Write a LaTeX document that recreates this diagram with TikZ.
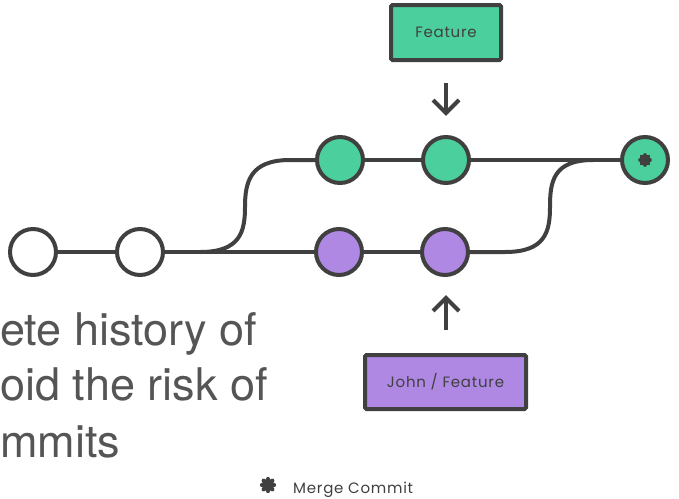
\documentclass[tikz,border=0pt]{standalone}
\usepackage{fontspec}
\setmainfont{TeX Gyre Heros}
\newfontfamily\labelfont[LetterSpace=5]{Poppins}
\usetikzlibrary{calc}
\definecolor{ink}{HTML}{404040}
\definecolor{featgreen}{HTML}{4BCF9C}
\definecolor{johnpurple}{HTML}{AF88E4}
\definecolor{bigtext}{HTML}{555555}
\tikzset{
  commit/.style={circle, draw=ink, line width=4pt, minimum size=46pt, inner sep=0pt},
  plaincommit/.style={commit, fill=white},
  greencommit/.style={commit, fill=featgreen},
  purplecommit/.style={commit, fill=johnpurple},
  branchline/.style={draw=ink, line width=4pt},
  labelbox/.style={draw=ink, line width=4pt, rounded corners=1.5pt, inner sep=0pt, font=\labelfont\fontsize{15}{17}\selectfont, text=ink},
  pointer/.style={draw=ink, line width=4pt},
  bigline/.style={anchor=base west, inner sep=0pt, text=bigtext, font=\fontsize{45}{56}\selectfont},
  petal/.style={draw=ink, line cap=round}
}
\begin{document}
\begin{tikzpicture}[x=1pt, y=-1pt]
\useasboundingbox (0,0) rectangle (679,498);
% branch points
\coordinate (bb) at (200,252);
\coordinate (bt) at (290,160);
\coordinate (mb) at (505,252);
\coordinate (mt) at (593,160);
% commit positions
\coordinate (c1pos) at (33,252);
\coordinate (c2pos) at (140,252);
\coordinate (g1pos) at (340,160);
\coordinate (g2pos) at (446,160);
\coordinate (mpos) at (645,160);
\coordinate (p1pos) at (339,252);
\coordinate (p2pos) at (445,252);
% lines (drawn first, under the commits)
\path[branchline] (c1pos) -- (c2pos);
\path[branchline] (c2pos) -- (p1pos);
\path[branchline] (p1pos) -- (p2pos);
\path[branchline] (p2pos) -- (mb) .. controls (545,252) and (550,232) .. (550,207) .. controls (550,182) and (553,160) .. (mt);
\path[branchline] (bb) .. controls (240,252) and (245,232) .. (245,207) .. controls (245,182) and (250,160) .. (bt) -- (g1pos);
\path[branchline] (g1pos) -- (g2pos);
\path[branchline] (g2pos) -- (mpos);
% commits
\node[plaincommit] (c1) at (c1pos) {};
\node[plaincommit] (c2) at (c2pos) {};
\node[greencommit] (g1) at (g1pos) {};
\node[greencommit] (g2) at (g2pos) {};
\node[greencommit] (m) at (mpos) {};
\node[purplecommit] (p1) at (p1pos) {};
\node[purplecommit] (p2) at (p2pos) {};
% merge asterisk
\foreach \a in {0,45,90,135}{
  \draw[petal, line width=3.6pt] ($(m.center)+(\a:5)$) -- ($(m.center)+(\a+180:5)$);
}
% label boxes
\node[labelbox, fill=featgreen, minimum width=110pt, minimum height=55pt] (feat) at (446,32.5) {Feature};
\node[labelbox, fill=johnpurple, minimum width=161pt, minimum height=54pt] (john) at (445.5,382) {John / Feature};
% pointers
\coordinate (fa) at (446,83);
\coordinate (ga) at (446,113);
\coordinate (ja) at (446,330);
\coordinate (pa) at (446,298);
\draw[pointer] (fa) -- (ga);
\draw[pointer, line join=miter] ($(ga)+(-13,-13)$) -- (ga) -- ($(ga)+(13,-13)$);
\draw[pointer] (ja) -- (pa);
\draw[pointer, line join=miter] ($(pa)+(-13,13)$) -- (pa) -- ($(pa)+(13,13)$);
% big text
\node[bigline] (t1) at (0,345) {ete history of};
\node[bigline] (t2) at (0,400) {oid the risk of};
\node[bigline] (t3) at (0,457) {mmits};
% legend
\coordinate (leg) at (268,485);
\foreach \a in {0,45,90,135}{
  \draw[petal, line width=4.4pt] ($(leg)+(\a:6)$) -- ($(leg)+(\a+180:6)$);
}
\node[anchor=base west, inner sep=0pt, text=ink, font=\labelfont\fontsize{15}{17}\selectfont] (legtext) at (293,493) {Merge Commit};
\end{tikzpicture}
\end{document}
